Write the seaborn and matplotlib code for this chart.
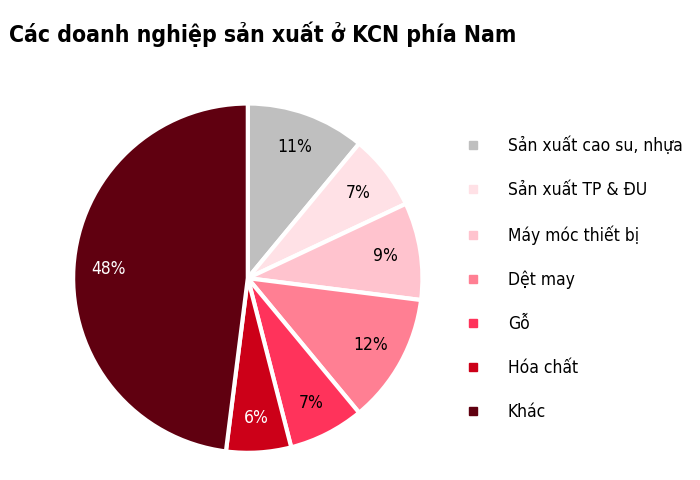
import matplotlib
matplotlib.use("Agg")
import matplotlib.pyplot as plt
import seaborn as sns
from matplotlib.lines import Line2D
from matplotlib import font_manager

categories = ["Sản xuất cao su, nhựa", "Sản xuất TP & ĐU", "Máy móc thiết bị",
              "Dệt may", "Gỗ", "Hóa chất", "Khác"]
values = [11, 7, 9, 12, 7, 6, 48]
colors = ["#BFBFBF", "#FFE1E6", "#FFC3CE", "#FF7F93", "#FF335B", "#CC0018", "#600010"]
label_colors = ["black", "black", "black", "black", "black", "white", "white"]

sns.set_theme(style="white")

cond = None
for f in font_manager.fontManager.ttflist:
    st = str(f.stretch).lower()
    if ("condensed" in st or "narrow" in f.name.lower() or "condensed" in f.name.lower()
            or st in ("semi-condensed", "condensed")) and "mono" not in f.name.lower():
        cond = f.name
        break
if cond is not None:
    fam = [cond, 'DejaVu Sans']
    stretch = "condensed"
    title_size, txt_size, pct_size = 16.5, 12.5, 12.5
else:
    fam = ['Liberation Sans', 'DejaVu Sans']
    stretch = "normal"
    title_size, txt_size, pct_size = 16, 11, 11.5
plt.rcParams['font.family'] = fam

fig = plt.figure(figsize=(7, 4.8), dpi=100)
ax = fig.add_axes([0.107, 0.06, 0.494, 0.721])
wedges, texts, autotexts = ax.pie(
    values, colors=colors, startangle=90, counterclock=False,
    autopct=lambda p: f"{p:.0f}%", pctdistance=0.8,
    wedgeprops=dict(edgecolor="white", linewidth=3),
    textprops=dict(fontsize=pct_size, fontstretch=stretch))
for t, c in zip(autotexts, label_colors):
    t.set_color(c)
ax.set_aspect("equal")
ax.set_xlim(-0.99, 0.99)
ax.set_ylim(-0.99, 0.99)

fig.text(0.013, 0.928, "Các doanh nghiệp sản xuất ở KCN phía Nam",
         fontsize=title_size, fontweight="bold", ha="left", va="center",
         family=fam, fontstretch=stretch, color="black")

handles = [Line2D([0], [0], marker="s", linestyle="", markersize=6,
                  markerfacecolor=c, markeredgecolor=c) for c in colors]
leg = fig.legend(handles, categories, loc="upper left",
                 bbox_to_anchor=(0.641, 0.748), frameon=False,
                 prop=dict(size=txt_size, stretch=stretch),
                 labelspacing=1.5, handletextpad=1.5,
                 handlelength=1.0, labelcolor="black")

fig.savefig("out.png", dpi=100)
